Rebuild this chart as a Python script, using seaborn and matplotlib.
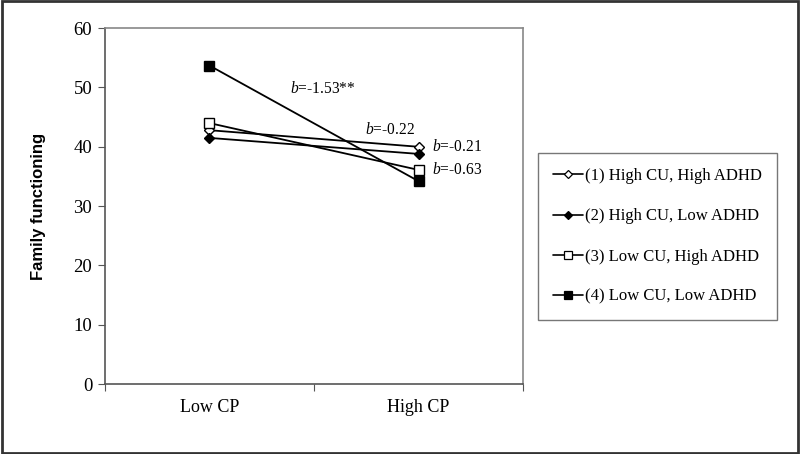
import pandas as pd
import seaborn as sns
import matplotlib.pyplot as plt
from matplotlib.lines import Line2D
from matplotlib.patches import Rectangle

# Données
cp_levels = ["Low CP", "High CP"]
groups = ["(1) High CU, High ADHD", "(2) High CU, Low ADHD",
          "(3) Low CU, High ADHD", "(4) Low CU, Low ADHD"]
g1 = [42.8, 40.0]
g2 = [41.5, 38.8]
g3 = [44.0, 36.1]
g4 = [53.7, 34.2]
slopes = ["-0.21", "-0.22", "-0.63", "-1.53**"]

rows = []
for name, vals in zip(groups, [g1, g2, g3, g4]):
    for i, v in enumerate(vals):
        rows.append({"group": name, "cp": i, "value": v})
df = pd.DataFrame(rows)

sns.set_style("white")
plt.rcParams['font.family'] = ['Liberation Serif', 'DejaVu Serif']
plt.rcParams['mathtext.fontset'] = 'custom'
plt.rcParams['mathtext.rm'] = 'Liberation Serif'
plt.rcParams['mathtext.it'] = 'Liberation Serif:italic'
for k in ['text.color', 'axes.labelcolor', 'xtick.color', 'ytick.color']:
    plt.rcParams[k] = 'black'

fig = plt.figure(figsize=(8, 4.54), dpi=100)
ax = fig.add_axes([0.131, 0.154, 0.523, 0.784])

# style des marqueurs pour chaque groupe
styles = {
    groups[0]: dict(marker="D", mfc="white", ms=5),
    groups[1]: dict(marker="D", mfc="black", ms=5),
    groups[2]: dict(marker="s", mfc="white", ms=6.5),
    groups[3]: dict(marker="s", mfc="black", ms=6.5),
}

handles = []
for name in groups:
    sub = df[df["group"] == name]
    st = styles[name]
    sns.lineplot(data=sub, x="cp", y="value", ax=ax, color="black", lw=1.3,
                 marker=st["marker"], markersize=st["ms"],
                 markerfacecolor=st["mfc"], markeredgecolor="black",
                 markeredgewidth=1.0)
    handles.append(Line2D([], [], color="black", lw=1.2, marker=st["marker"],
                          markersize=st["ms"] - 1, markerfacecolor=st["mfc"],
                          markeredgecolor="black", markeredgewidth=0.9))

# pentes annotées
ax.text(1.065, 40.0, r"$\it{b}$=" + slopes[0], fontsize=11.2, ha="left", va="center")
ax.text(0.744, 42.8, r"$\it{b}$=" + slopes[1], fontsize=11.2, ha="left", va="center")
ax.text(1.065, 36.1, r"$\it{b}$=" + slopes[2], fontsize=11.2, ha="left", va="center")
ax.text(0.385, 49.7, r"$\it{b}$=" + slopes[3], fontsize=11.2, ha="left", va="center")

ax.set_xlim(-0.5, 1.5)
ax.set_ylim(0, 60)
ax.set_yticks(range(0, 61, 10))
ax.set_xticks([-0.5, 0.5, 1.5])
ax.set_xticklabels([])
ax.set_xticks([0, 1], minor=True)
ax.set_xticklabels(cp_levels, minor=True)
ax.tick_params(axis="x", which="minor", length=0, labelsize=13, pad=11)
ax.tick_params(axis="x", which="major", length=5, direction="out", color="#555555")
ax.tick_params(axis="y", length=5, direction="out", color="#555555", labelsize=13.5, pad=4)
ax.tick_params(bottom=True, left=True)
ax.set_xlabel("")
ax.set_ylabel("Family functioning", fontsize=12, fontweight="bold",
              family="Liberation Sans", labelpad=20)

for s in ["left", "bottom"]:
    ax.spines[s].set_color("#555555")
    ax.spines[s].set_linewidth(1.2)
for s in ["top", "right"]:
    ax.spines[s].set_color("#888888")
    ax.spines[s].set_linewidth(1.2)

leg = fig.legend(handles, groups, loc="center left", bbox_to_anchor=(0.672, 0.479),
                 frameon=True, fancybox=False, fontsize=12, handlelength=1.8,
                 handletextpad=0.15, labelspacing=1.45, borderpad=0.9,
                 borderaxespad=0)
leg.get_frame().set_edgecolor("#555555")
leg.get_frame().set_linewidth(1.0)

# cadre autour de la figure
fig.patches.append(Rectangle((0.002, 0.003), 0.996, 0.994, transform=fig.transFigure,
                             fill=False, edgecolor="#333333", lw=2))

fig.savefig("out.png", dpi=100)
